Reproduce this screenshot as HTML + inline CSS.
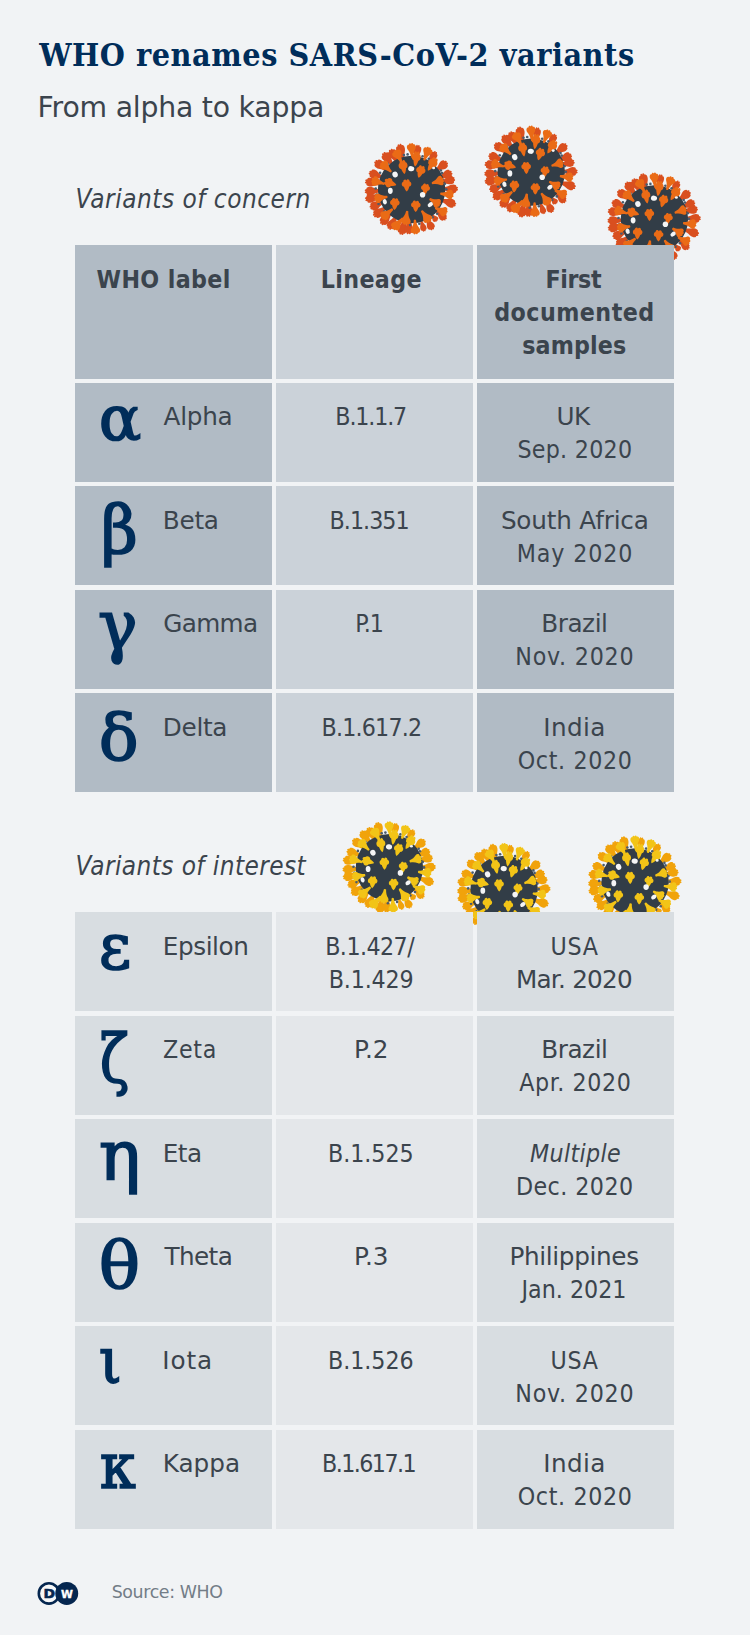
<!DOCTYPE html><html lang="en"><head><meta charset="utf-8"><title>WHO renames SARS-CoV-2 variants</title><style>
    html,body{margin:0;padding:0}
    body{width:750px;height:1635px;position:relative;overflow:hidden;background:#f1f3f5;color:#3b444d;font-family:'DejaVu Sans','Liberation Sans',sans-serif}
    .c{position:absolute}
    .a1{background:#b1bbc5}.a2{background:#cbd2d9}.b1{background:#d8dde1}.b2{background:#e4e7ea}
    .t{position:absolute;white-space:nowrap;line-height:1;margin:0}
    .g{position:absolute;white-space:nowrap;line-height:1;color:#002d5a;font-weight:normal;-webkit-text-stroke:1.7px #002d5a;font-family:'DejaVu Serif Condensed','DejaVu Serif','Liberation Serif',serif;transform-origin:0 0;font-stretch:condensed}
    svg.v{position:absolute;left:0;top:0;width:750px;height:1635px;overflow:visible}
    .vb{fill:var(--b)}.vf{fill:var(--f)}.vc{fill:#323d47}.vd{fill:#4a5b6c}.vw{fill:#f4f5f6}
    .ft{font:normal bold 32px 'DejaVu Serif Condensed','DejaVu Serif','Liberation Serif',serif;color:#002d5a;font-stretch:condensed;}
.fs{font:normal normal 28.3px 'DejaVu Sans','Liberation Sans',sans-serif;}
.fi{font:italic normal 25.9px 'DejaVu Sans','Liberation Sans',sans-serif;}
.fic{font:italic normal 25.9px 'DejaVu Sans Condensed','DejaVu Sans','Liberation Sans',sans-serif;font-stretch:condensed;}
.fh{font:normal bold 24.7px 'DejaVu Sans Condensed','DejaVu Sans','Liberation Sans',sans-serif;font-stretch:condensed;}
.fb{font:normal normal 24.7px 'DejaVu Sans','Liberation Sans',sans-serif;}
.fbc{font:normal normal 24.7px 'DejaVu Sans Condensed','DejaVu Sans','Liberation Sans',sans-serif;font-stretch:condensed;}
.fbi{font:italic normal 24.7px 'DejaVu Sans','Liberation Sans',sans-serif;}
.fbic{font:italic normal 24.7px 'DejaVu Sans Condensed','DejaVu Sans','Liberation Sans',sans-serif;font-stretch:condensed;}
.fo{font:normal normal 17.4px 'DejaVu Sans','Liberation Sans',sans-serif;color:#737d87;}
</style></head><body>
<svg class="v" viewBox="0 0 750 1635" aria-hidden="true"><defs><path id="sp" d="M-1.4,0C-1.9,-4-3,-6.6-5.4,-9.2C-7.2,-11.6-5.6,-14.6-3.2,-13.9C-2.6,-15.7-.8,-15.9,0,-14.5C.8,-15.9,2.6,-15.7,3.2,-13.9C5.6,-14.6,7.2,-11.6,5.4,-9.2C3,-6.6,1.9,-4,1.4,0Q0,.9-1.4,0Z"/><path id="tf" d="M0,.5C-1.6,-.4-2.7,-3-3.4,-5.4C-6.7,-5.7-7.1,-10.7-4.1,-11.6C-3.9,-14.7-.8,-15.1,0,-12.9C.8,-15.1,3.9,-14.7,4.1,-11.6C7.1,-10.7,6.7,-5.7,3.4,-5.4C2.7,-3,1.6,-.4,0,.5Z"/><g id="virus"><g class="vb"><use href="#sp" transform="translate(-7.3 -26.5) rotate(-15) scale(0.71 1.27)"/><use href="#sp" transform="translate(-12.9 -24.3) rotate(-28) scale(0.71 1.17)"/><use href="#sp" transform="translate(-16.8 -21.8) rotate(-38) scale(0.71 1.23)"/><use href="#sp" transform="translate(-21.7 -16.8) rotate(-52) scale(0.71 1.23)"/><use href="#sp" transform="translate(-25.4 -10.4) rotate(-68) scale(0.71 1.20)"/><use href="#sp" transform="translate(-27.1 -4.9) rotate(-80) scale(0.71 1.28)"/><use href="#sp" transform="translate(-27.5 1.1) rotate(-92) scale(0.71 1.26)"/><use href="#sp" transform="translate(-26.9 5.8) rotate(-102) scale(0.71 1.30)"/><use href="#sp" transform="translate(-25.1 11.2) rotate(-114) scale(0.71 1.17)"/><use href="#sp" transform="translate(-22.5 15.8) rotate(-125) scale(0.71 1.23)"/><use href="#sp" transform="translate(-18.2 20.6) rotate(-139) scale(0.71 1.22)"/><use href="#sp" transform="translate(-13.6 23.9) rotate(-150) scale(0.71 1.19)"/><use href="#sp" transform="translate(-6.2 26.8) rotate(-167) scale(0.71 1.23)"/><use href="#sp" transform="translate(-1.8 27.4) rotate(-176) scale(0.71 1.13)"/><use href="#sp" transform="translate(8.8 28.7) rotate(163) scale(0.51 0.90)"/><use href="#sp" transform="translate(13.9 26.6) rotate(152) scale(0.63 1.01)"/><use href="#sp" transform="translate(19.4 24.2) rotate(141) scale(0.51 0.62)"/><use href="#sp" transform="translate(22.6 19.8) rotate(131) scale(0.63 1.02)"/><use href="#sp" transform="translate(26.0 9.1) rotate(109) scale(0.71 1.26)"/><use href="#sp" transform="translate(27.5 -0.4) rotate(89) scale(0.71 1.23)"/><use href="#sp" transform="translate(26.7 -6.5) rotate(76) scale(0.71 1.11)"/><use href="#sp" transform="translate(25.3 -10.7) rotate(67) scale(0.71 1.07)"/><use href="#sp" transform="translate(21.8 -16.8) rotate(52) scale(0.71 1.14)"/><use href="#sp" transform="translate(14.9 -23.1) rotate(33) scale(0.59 1.14)"/><use href="#sp" transform="translate(4.0 -27.2) rotate(8) scale(0.63 1.14)"/></g><circle r="33.7" class="vc"/><g class="vd"><circle cx="-7.7" cy="-34.4" r="1.3"/><circle cx="-4" cy="-35.1" r="1.3"/><circle cx="-31.5" cy="-16.8" r="1.3"/><circle cx="-35.9" cy="-1" r="1.3"/><circle cx="11" cy="-33.3" r="1.3"/><circle cx="17.2" cy="-30.7" r="1.3"/><circle cx="29.3" cy="-19" r="1.3"/><circle cx="30.5" cy="-16.5" r="1.3"/><circle cx="33.3" cy="-5.8" r="1.3"/><circle cx="34.6" cy="-0.3" r="1.3"/><circle cx="25.6" cy="24.3" r="1.3"/><circle cx="7.7" cy="34.2" r="1.3"/><circle cx="-1.5" cy="35.6" r="1.3"/><circle cx="-33" cy="14.4" r="1.3"/><circle cx="-34.9" cy="5" r="1.3"/><circle cx="-24" cy="-25.6" r="1.3"/><circle cx="21" cy="27.8" r="1.3"/><circle cx="-12" cy="33.2" r="1.3"/><circle cx="-27.5" cy="22" r="1.3"/></g><g class="vf"><use href="#sp" transform="translate(-9.9 -27.4) rotate(-29) scale(0.78 0.89)"/><use href="#tf" transform="translate(-7.1 -16.0) rotate(-10) scale(0.73 0.95)"/><use href="#sp" transform="translate(-20.5 -17.7) rotate(-46) scale(0.78 0.89)"/><use href="#sp" transform="translate(-27.5 -5.6) rotate(-73) scale(0.78 0.85)"/><use href="#sp" transform="translate(0.9 -31.5) rotate(-6) scale(0.72 0.97)"/><use href="#tf" transform="translate(3.5 -23.4) rotate(8) scale(0.72 1.04)"/><use href="#sp" transform="translate(12.6 -29.4) rotate(21) scale(0.76 0.89)"/><use href="#tf" transform="translate(16.6 -19.1) rotate(32) scale(0.76 1.02)"/><use href="#sp" transform="translate(20.5 -6.3) rotate(73) scale(0.78 0.79)"/><use href="#sp" transform="translate(28.9 4.1) rotate(96) scale(0.78 0.86)"/><use href="#sp" transform="translate(18.2 9.5) rotate(120) scale(0.78 0.78)"/><use href="#sp" transform="translate(23.8 18.4) rotate(114) scale(0.78 0.83)"/><use href="#sp" transform="translate(10.2 21.3) rotate(144) scale(0.79 0.89)"/><use href="#sp" transform="translate(3.3 30.5) rotate(177) scale(0.76 0.93)"/><use href="#sp" transform="translate(-24.4 7.4) rotate(-98) scale(0.78 0.85)"/><use href="#sp" transform="translate(-19.1 19.7) rotate(-129) scale(0.79 0.92)"/><use href="#sp" transform="translate(-8.8 28.7) rotate(-138) scale(0.79 0.96)"/><use href="#sp" transform="translate(-4.4 21.7) rotate(-172) scale(0.80 0.89)"/><use href="#tf" transform="translate(-15.7 -4.7) rotate(-73) scale(0.78 0.84)"/><use href="#tf" transform="translate(-4.8 1.6) rotate(-2) scale(0.78 0.82)"/><use href="#tf" transform="translate(7.1 -12.2) rotate(17) scale(0.76 0.85)"/><use href="#tf" transform="translate(12.9 4.9) rotate(9) scale(0.73 0.75)"/><use href="#tf" transform="translate(4.0 22.1) rotate(2) scale(0.78 0.77)"/><use href="#tf" transform="translate(-17.2 20.1) rotate(4) scale(0.78 0.81)"/></g><g class="vw"><ellipse cx="-16.5" cy="-15.0" rx="2.7" ry="3.0" transform="rotate(-20 -16.5 -15.0)"/><ellipse cx="-0.4" cy="-20.8" rx="3.1" ry="2.6" transform="rotate(10 -0.4 -20.8)"/><ellipse cx="-21.3" cy="1.3" rx="2.4" ry="3.1"/><ellipse cx="22" cy="-21.5" rx="1.5" ry="1.3"/><ellipse cx="11" cy="5.2" rx="2.7" ry="2.8"/><ellipse cx="18.7" cy="15.1" rx="2.9" ry="2.1" transform="rotate(-35 18.7 15.1)"/><ellipse cx="-26.8" cy="12.2" rx="2.0" ry="2.7" transform="rotate(-20 -26.8 12.2)"/></g></g></defs><use href="#virus" x="411.6" y="189.5" style="--b:#d94f1f;--f:#ea6b16"/><use href="#virus" x="531.2" y="172.1" style="--b:#d94f1f;--f:#ea6b16"/><use href="#virus" x="654.4" y="219.0" style="--b:#d94f1f;--f:#ea6b16"/><use href="#virus" x="389.4" y="867.7" style="--b:#f1a30b;--f:#f2c417"/><use href="#virus" x="504.1" y="889.4" style="--b:#f1a30b;--f:#f2c417"/><use href="#virus" x="635.1" y="881.9" style="--b:#f1a30b;--f:#f2c417"/></svg>
<div id="t1">
<div class="c a1" style="left:75px;top:245.0px;width:197px;height:133.5px"></div>
<div class="c a2" style="left:276px;top:245.0px;width:197px;height:133.5px"></div>
<div class="c a1" style="left:477px;top:245.0px;width:197px;height:133.5px"></div>
<div class="c a1" style="left:75px;top:382.6px;width:197px;height:99.4px"></div>
<div class="c a2" style="left:276px;top:382.6px;width:197px;height:99.4px"></div>
<div class="c a1" style="left:477px;top:382.6px;width:197px;height:99.4px"></div>
<div class="c a1" style="left:75px;top:486.1px;width:197px;height:99.4px"></div>
<div class="c a2" style="left:276px;top:486.1px;width:197px;height:99.4px"></div>
<div class="c a1" style="left:477px;top:486.1px;width:197px;height:99.4px"></div>
<div class="c a1" style="left:75px;top:589.6px;width:197px;height:99.4px"></div>
<div class="c a2" style="left:276px;top:589.6px;width:197px;height:99.4px"></div>
<div class="c a1" style="left:477px;top:589.6px;width:197px;height:99.4px"></div>
<div class="c a1" style="left:75px;top:693.1px;width:197px;height:99.4px"></div>
<div class="c a2" style="left:276px;top:693.1px;width:197px;height:99.4px"></div>
<div class="c a1" style="left:477px;top:693.1px;width:197px;height:99.4px"></div>
</div><div id="t2">
<div class="c b1" style="left:75px;top:912.0px;width:197px;height:99.4px"></div>
<div class="c b2" style="left:276px;top:912.0px;width:197px;height:99.4px"></div>
<div class="c b1" style="left:477px;top:912.0px;width:197px;height:99.4px"></div>
<div class="c b1" style="left:75px;top:1015.5px;width:197px;height:99.4px"></div>
<div class="c b2" style="left:276px;top:1015.5px;width:197px;height:99.4px"></div>
<div class="c b1" style="left:477px;top:1015.5px;width:197px;height:99.4px"></div>
<div class="c b1" style="left:75px;top:1119.0px;width:197px;height:99.4px"></div>
<div class="c b2" style="left:276px;top:1119.0px;width:197px;height:99.4px"></div>
<div class="c b1" style="left:477px;top:1119.0px;width:197px;height:99.4px"></div>
<div class="c b1" style="left:75px;top:1222.5px;width:197px;height:99.4px"></div>
<div class="c b2" style="left:276px;top:1222.5px;width:197px;height:99.4px"></div>
<div class="c b1" style="left:477px;top:1222.5px;width:197px;height:99.4px"></div>
<div class="c b1" style="left:75px;top:1326.0px;width:197px;height:99.4px"></div>
<div class="c b2" style="left:276px;top:1326.0px;width:197px;height:99.4px"></div>
<div class="c b1" style="left:477px;top:1326.0px;width:197px;height:99.4px"></div>
<div class="c b1" style="left:75px;top:1429.5px;width:197px;height:99.4px"></div>
<div class="c b2" style="left:276px;top:1429.5px;width:197px;height:99.4px"></div>
<div class="c b1" style="left:477px;top:1429.5px;width:197px;height:99.4px"></div>
</div>
<h1 class="t ft" style="left:39.2px;top:36.0px;line-height:38px;letter-spacing:0.55px">WHO renames SARS-CoV-2 variants</h1>
<div class="t fs" style="left:37.6px;top:90.5px;line-height:33px;letter-spacing:-0.21px">From alpha to kappa</div>
<div class="t fic" style="left:75.5px;top:183.5px;line-height:30px;letter-spacing:0.52px">Variants of concern</div>
<div class="t fic" style="left:75.5px;top:850.5px;line-height:30px;letter-spacing:0.43px">Variants of interest</div>
<div class="t fh" style="left:96.5px;top:264.9px;line-height:29px;letter-spacing:0.38px">WHO label</div>
<div class="t fh" style="left:320.7px;top:264.9px;line-height:29px;letter-spacing:0.38px">Lineage</div>
<div class="t fh" style="left:545.5px;top:264.8px;line-height:29px;letter-spacing:-0.39px">First</div>
<div class="t fh" style="left:494.2px;top:297.7px;line-height:29px;letter-spacing:0.47px">documented</div>
<div class="t fh" style="left:522.2px;top:330.6px;line-height:29px;letter-spacing:0.16px">samples</div>
<div class="t fb" style="left:163.6px;top:402.4px;line-height:29px;letter-spacing:-0.27px">Alpha</div>
<div class="t fb" style="left:162.8px;top:505.9px;line-height:29px;letter-spacing:-0.27px">Beta</div>
<div class="t fb" style="left:163.3px;top:609.4px;line-height:29px;letter-spacing:-0.66px">Gamma</div>
<div class="t fb" style="left:162.8px;top:712.9px;line-height:29px;letter-spacing:-0.31px">Delta</div>
<div class="t fbc" style="left:335.3px;top:402.4px;line-height:29px;letter-spacing:-1.14px">B.1.1.7</div>
<div class="t fbc" style="left:329.5px;top:505.9px;line-height:29px;letter-spacing:-0.95px">B.1.351</div>
<div class="t fbc" style="left:355.3px;top:609.4px;line-height:29px;letter-spacing:-1.10px">P.1</div>
<div class="t fbc" style="left:321.5px;top:712.9px;line-height:29px;letter-spacing:-0.80px">B.1.617.2</div>
<div class="t fb" style="left:556.4px;top:402.4px;line-height:29px;letter-spacing:-0.47px">UK</div>
<div class="t fbc" style="left:517.4px;top:435.4px;line-height:29px;letter-spacing:0.28px">Sep. 2020</div>
<div class="t fb" style="left:500.9px;top:505.9px;line-height:29px;letter-spacing:-0.19px">South Africa</div>
<div class="t fbc" style="left:516.7px;top:538.9px;line-height:29px;letter-spacing:0.88px">May 2020</div>
<div class="t fb" style="left:541.2px;top:609.4px;line-height:29px;letter-spacing:-0.43px">Brazil</div>
<div class="t fbc" style="left:515.3px;top:642.4px;line-height:29px;letter-spacing:0.79px">Nov. 2020</div>
<div class="t fb" style="left:543.3px;top:712.9px;line-height:29px;letter-spacing:0.36px">India</div>
<div class="t fbc" style="left:517.7px;top:745.9px;line-height:29px;letter-spacing:0.64px">Oct. 2020</div>
<div class="t fb" style="left:162.8px;top:931.8px;line-height:29px;letter-spacing:-0.43px">Epsilon</div>
<div class="t fbc" style="left:163.0px;top:1035.3px;line-height:29px;letter-spacing:0.70px">Zeta</div>
<div class="t fb" style="left:162.8px;top:1138.8px;line-height:29px;letter-spacing:-0.54px">Eta</div>
<div class="t fb" style="left:164.5px;top:1242.3px;line-height:29px;letter-spacing:-0.60px">Theta</div>
<div class="t fb" style="left:162.3px;top:1345.8px;line-height:29px;letter-spacing:0.85px">Iota</div>
<div class="t fb" style="left:162.8px;top:1449.3px;line-height:29px;letter-spacing:-0.03px">Kappa</div>
<div class="t fbc" style="left:325.2px;top:931.8px;line-height:29px;letter-spacing:-0.55px">B.1.427/</div>
<div class="t fbc" style="left:328.7px;top:964.8px;line-height:29px;letter-spacing:-0.15px">B.1.429</div>
<div class="t fb" style="left:354.0px;top:1035.3px;line-height:29px;letter-spacing:-0.09px">P.2</div>
<div class="t fbc" style="left:328.1px;top:1138.8px;line-height:29px;letter-spacing:-0.05px">B.1.525</div>
<div class="t fb" style="left:354.0px;top:1242.3px;line-height:29px;letter-spacing:-0.09px">P.3</div>
<div class="t fbc" style="left:328.1px;top:1345.8px;line-height:29px;letter-spacing:-0.05px">B.1.526</div>
<div class="t fbc" style="left:322.0px;top:1449.3px;line-height:29px;letter-spacing:-1.55px">B.1.617.1</div>
<div class="t fbc" style="left:550.5px;top:931.8px;line-height:29px;letter-spacing:0.69px">USA</div>
<div class="t fb" style="left:515.9px;top:964.8px;line-height:29px;letter-spacing:-0.75px">Mar. 2020</div>
<div class="t fb" style="left:541.2px;top:1035.3px;line-height:29px;letter-spacing:-0.43px">Brazil</div>
<div class="t fbc" style="left:519.2px;top:1068.3px;line-height:29px;letter-spacing:0.63px">Apr. 2020</div>
<div class="t fbic" style="left:530.1px;top:1138.8px;line-height:29px;letter-spacing:0.33px">Multiple</div>
<div class="t fbc" style="left:515.9px;top:1171.8px;line-height:29px;letter-spacing:0.45px">Dec. 2020</div>
<div class="t fb" style="left:509.5px;top:1242.3px;line-height:29px;letter-spacing:-0.35px">Philippines</div>
<div class="t fbc" style="left:521.5px;top:1275.3px;line-height:29px;letter-spacing:0.01px">Jan. 2021</div>
<div class="t fbc" style="left:550.5px;top:1345.8px;line-height:29px;letter-spacing:0.69px">USA</div>
<div class="t fbc" style="left:515.3px;top:1378.8px;line-height:29px;letter-spacing:0.79px">Nov. 2020</div>
<div class="t fb" style="left:543.3px;top:1449.3px;line-height:29px;letter-spacing:0.36px">India</div>
<div class="t fbc" style="left:517.7px;top:1482.3px;line-height:29px;letter-spacing:0.64px">Oct. 2020</div>
<div class="t fo" style="left:111.7px;top:1581.6px;line-height:20px;letter-spacing:-0.38px">Source: WHO</div>
<div class="g" style="left:98.6px;top:382.5px;font-size:62.4px;line-height:72.6px;transform:scaleX(1.112)">α</div>
<div class="g" style="left:100.5px;top:491.9px;font-size:66.8px;line-height:77.8px;transform:scaleX(1.056)">β</div>
<div class="g" style="left:97.9px;top:586.3px;font-size:68.8px;line-height:80.1px;transform:scaleX(1.065)">γ</div>
<div class="g" style="left:99.0px;top:699.7px;font-size:63.6px;line-height:74.1px;transform:scaleX(1.145)">δ</div>
<div class="g" style="left:98.5px;top:911.0px;font-size:62.8px;line-height:73.2px;transform:scaleX(1.097)">ε</div>
<div class="g" style="left:99.7px;top:1021.0px;font-size:66.6px;line-height:77.6px;transform:scaleX(0.894)">ζ</div>
<div class="g" style="left:98.8px;top:1116.2px;font-size:68.8px;line-height:80.1px;transform:scaleX(1.120)">η</div>
<div class="g" style="left:98.7px;top:1227.9px;font-size:64.7px;line-height:75.4px;transform:scaleX(1.168)">θ</div>
<div class="g" style="left:99.1px;top:1325.3px;font-size:62.9px;line-height:73.2px;transform:scaleX(1.020)">ι</div>
<div class="g" style="left:99.6px;top:1429.0px;font-size:63.7px;line-height:74.2px;transform:scaleX(0.996)">κ</div>
<svg class="c" style="left:34px;top:1578px" width="48" height="30" viewBox="34 1578 48 30" role="img" aria-label="DW"><circle cx="48.95" cy="1593.45" r="10.15" fill="#f6f7f8" stroke="#05264f" stroke-width="2.6"/><circle cx="66.75" cy="1593.45" r="11.45" fill="#05264f"/><text x="0" y="1597.6" text-anchor="middle" font-family="'DejaVu Sans','Liberation Sans',sans-serif" font-weight="bold" font-size="11.6" fill="#05264f" stroke="#05264f" stroke-width=".5" transform="translate(49.35 0) scale(1.2 1)">D</text><text x="67.05" y="1598" text-anchor="middle" font-family="'DejaVu Sans','Liberation Sans',sans-serif" font-weight="bold" font-size="10.8" fill="#fff" stroke="#fff" stroke-width=".35">W</text></svg>
</body></html>
